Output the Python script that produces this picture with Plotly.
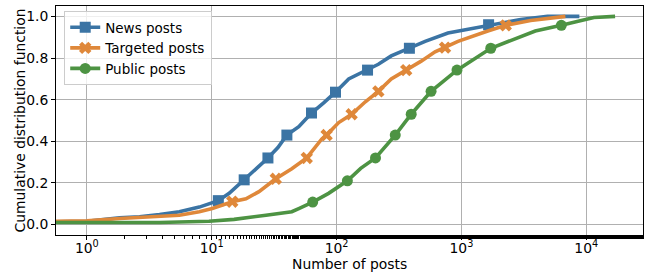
import plotly.graph_objects as go

# ---- data ----
news_x = [0.5, 1, 1.83, 2.64, 3.82, 5.5, 7.95, 9.5, 11.3, 13.8, 18.2, 22.2, 28.2, 33.9, 40,
          49.8, 63, 78.8, 98, 125, 177, 216, 274, 383, 512, 780, 1066, 1650, 2980, 4890, 8800]
news_y = [0.013, 0.016, 0.033, 0.038, 0.048, 0.062, 0.084, 0.10, 0.115, 0.15, 0.215, 0.26, 0.32, 0.37, 0.43,
          0.47, 0.536, 0.585, 0.636, 0.70, 0.742, 0.77, 0.81, 0.847, 0.88, 0.92, 0.935, 0.96, 0.985, 1.0, 1.0]
news_mx = [11.3, 18.2, 28.2, 40, 63, 98, 177, 383, 1650]
news_my = [0.115, 0.215, 0.32, 0.43, 0.536, 0.636, 0.742, 0.847, 0.96]

targ_x = [0.5, 1, 1.83, 3.82, 5.5, 7.95, 10.1, 14.6, 18.8, 23.9, 32.6, 43.8, 57.7, 75.9, 83.2,
          104, 132, 170, 216, 274, 361, 476, 615, 739, 938, 1626, 2264, 3580, 6800]
targ_y = [0.016, 0.018, 0.029, 0.038, 0.045, 0.062, 0.077, 0.11, 0.124, 0.158, 0.22, 0.268, 0.32, 0.41, 0.43,
          0.49, 0.53, 0.59, 0.64, 0.70, 0.742, 0.785, 0.83, 0.85, 0.88, 0.93, 0.957, 0.98, 1.0]
targ_mx = [14.6, 32.6, 57.7, 83.2, 132, 216, 361, 739, 2264]
targ_my = [0.11, 0.22, 0.32, 0.43, 0.53, 0.64, 0.742, 0.85, 0.957]

pub_x = [0.5, 1, 3.82, 9.5, 15.1, 27.2, 43.8, 49.8, 64.4, 86.3, 122, 156, 205, 295, 396, 571,
         921, 1718, 2980, 3900, 6310, 8800, 11500, 17000]
pub_y = [0.01, 0.01, 0.01, 0.016, 0.025, 0.045, 0.062, 0.077, 0.108, 0.15, 0.21, 0.27, 0.32, 0.43, 0.53, 0.64,
         0.742, 0.847, 0.905, 0.93, 0.957, 0.98, 0.995, 1.0]
pub_mx = [64.4, 122, 205, 295, 396, 571, 921, 1718, 6310]
pub_my = [0.108, 0.21, 0.32, 0.43, 0.53, 0.64, 0.742, 0.847, 0.957]

tick_vals = [1, 10, 100, 1000, 10000]
tick_text = ["10<sup>0</sup>", "10<sup>1</sup>", "10<sup>2</sup>", "10<sup>3</sup>", "10<sup>4</sup>"]
y_ticks = [0.0, 0.2, 0.4, 0.6, 0.8, 1.0]
x_title = "Number of posts"
y_title = "Cumulative distribution function"

series = [
    ("News posts", news_x, news_y, news_mx, news_my, "#3b74a4", "square"),
    ("Targeted posts", targ_x, targ_y, targ_mx, targ_my, "#df883a", "x"),
    ("Public posts", pub_x, pub_y, pub_mx, pub_my, "#4d9343", "circle"),
]

FONT = "DejaVu Sans"
FS = 13.9

fig = go.Figure()
for name, x, y, mx, my, col, sym in series:
    fig.add_trace(go.Scatter(x=x, y=y, mode="lines", line=dict(color=col, width=3.6),
                             legendgroup=name, showlegend=False, hoverinfo="skip"))
    fig.add_trace(go.Scatter(x=mx, y=my, mode="markers",
                             marker=dict(color=col, symbol=sym, size=11, line=dict(width=0)),
                             legendgroup=name, showlegend=False))
    fig.add_trace(go.Scatter(x=[None], y=[None], mode="lines+markers", name=name,
                             line=dict(color=col, width=3.6),
                             marker=dict(color=col, symbol=sym, size=11, line=dict(width=0)),
                             legendgroup=name))

fig.update_layout(
    width=645, height=273,
    margin=dict(l=56, r=2, t=6, b=38),
    paper_bgcolor="white", plot_bgcolor="white",
    font=dict(family=FONT, size=FS, color="black"),
    legend=dict(x=0.014, y=0.978, xanchor="left", yanchor="top",
                bgcolor="rgba(255,255,255,0.8)", bordercolor="#cccccc", borderwidth=1,
                font=dict(family=FONT, size=13.5), tracegroupgap=0, itemwidth=30),
    annotations=[
        dict(text=x_title, xref="paper", yref="paper", x=0.5, y=-0.128,
             xanchor="center", yanchor="middle", showarrow=False,
             font=dict(family=FONT, size=FS)),
        dict(text=y_title, xref="paper", yref="paper", x=-0.063, y=0.5, textangle=-90,
             xanchor="center", yanchor="middle", showarrow=False,
             font=dict(family=FONT, size=FS)),
    ],
)
fig.update_xaxes(
    type="log", range=[-0.247, 4.454], automargin=False,
    tickvals=tick_vals, ticktext=tick_text,
    ticks="outside", ticklen=4, tickcolor="black", tickwidth=1,
    ticklabelstandoff=-4,
    showgrid=True, gridcolor="#b0b0b0", gridwidth=1,
    showline=True, linecolor="black", linewidth=1, mirror=True,
    minor=dict(ticks="outside", ticklen=2.5, tickcolor="black", showgrid=False),
    zeroline=False,
)
fig.update_yaxes(
    range=[-0.05, 1.05], automargin=False,
    tickvals=y_ticks, tickformat=".1f",
    ticks="outside", ticklen=4, tickcolor="black", tickwidth=1,
    showgrid=True, gridcolor="#b0b0b0", gridwidth=1,
    showline=True, linecolor="black", linewidth=1, mirror=True,
    zeroline=False,
)

fig.write_html("out.html", config={"displayModeBar": False},
               post_script="document.body.style.margin='0';")
